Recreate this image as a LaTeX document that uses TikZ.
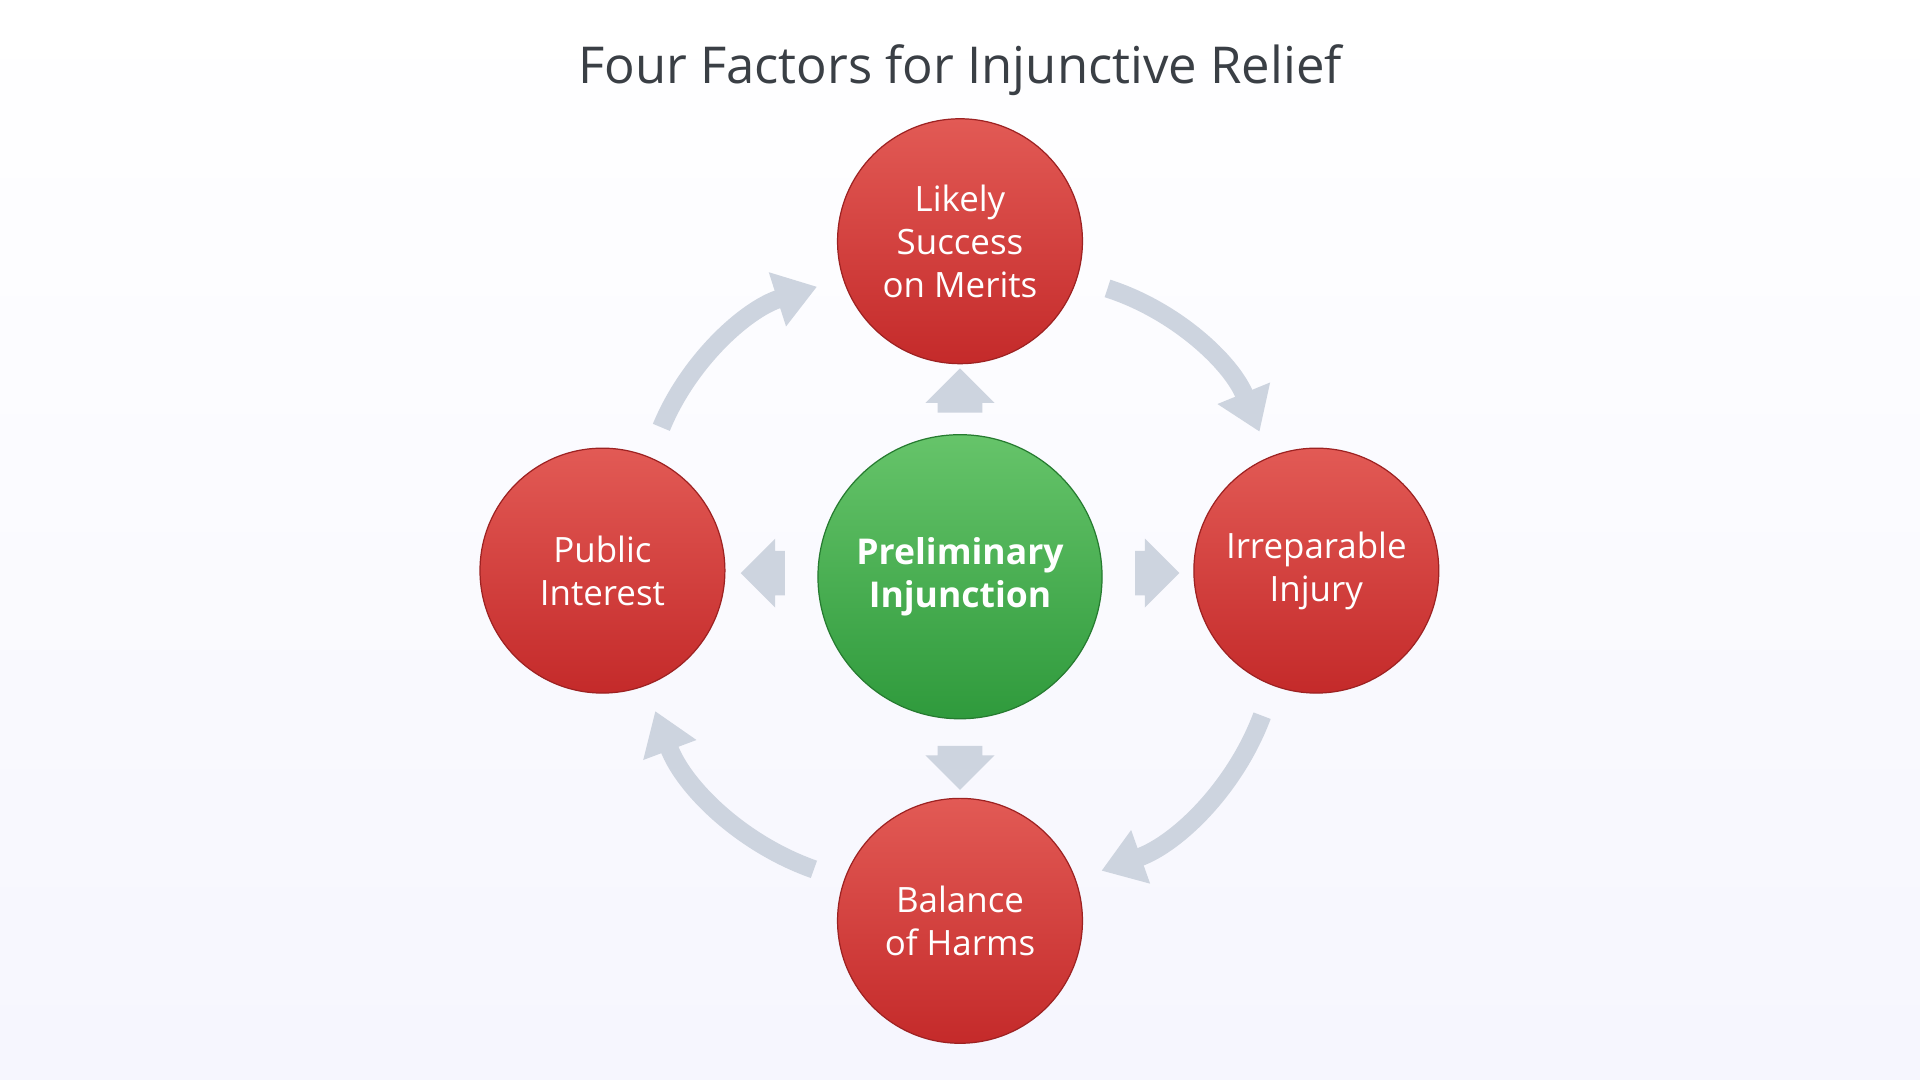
\documentclass[tikz,border=0pt]{standalone}
\usepackage{fontspec}
\setmainfont{Open Sans}
\usetikzlibrary{arrows.meta,shapes.arrows}
\definecolor{arr}{HTML}{CDD4DF}
\definecolor{rtop}{HTML}{E25A55}
\definecolor{rbot}{HTML}{C42A2A}
\definecolor{gtop}{HTML}{66C46A}
\definecolor{gbot}{HTML}{2F9A3C}
\definecolor{ttl}{HTML}{3A3F45}
\begin{document}
\begin{tikzpicture}[x=1pt,y=-1pt,
  factor/.style={circle,minimum size=200pt,inner sep=0pt,top color=rtop,bottom color=rbot,draw=rbot!80!black,line width=1pt,text=white,align=center,font=\fontsize{28.5}{35}\selectfont},
  center/.style={circle,minimum size=232pt,inner sep=0pt,top color=gtop,bottom color=gbot,draw=gbot!80!black,line width=1pt,text=white,align=center,font=\fontsize{29}{35}\selectfont\bfseries},
  cyc/.style={draw=arr,line width=15pt,-{Triangle[length=34pt,width=44pt]},shorten <=26pt,shorten >=22pt},
  blk/.style={single arrow,fill=arr,draw=none,inner xsep=0pt,inner ysep=18pt,single arrow head extend=10pt,minimum height=36pt}]
\shade[top color=white,bottom color=white!92!black!60!blue!8] (0,0) rectangle (1568,882);
\useasboundingbox (0,0) rectangle (1568,882);
\node[text=ttl,font=\fontsize{41.5}{48}\selectfont] (title) at (784,57) {Four Factors for Injunctive Relief};
\node[factor] (top) at (784,197) {Likely\\Success\\on Merits};
\node[factor] (right) at (1075,466) {Irreparable\\Injury};
\node[factor] (bottom) at (784,752) {Balance\\of Harms};
\node[factor] (left) at (492,466) {Public\\Interest};
\node[center] (pi) at (784,471) {Preliminary\\Injunction};
\draw[cyc] (top) to[bend left=25] (right);
\draw[cyc] (right) to[bend left=25] (bottom);
\draw[cyc] (bottom) to[bend left=25] (left);
\draw[cyc] (left) to[bend left=25] (top);
\node[blk,rotate=90] (au) at (784,328) {};
\node[blk,rotate=-90] (ad) at (784,618) {};
\node[blk] (ar) at (936,468) {};
\node[blk,rotate=180] (al) at (632,468) {};
\end{tikzpicture}
\end{document}
